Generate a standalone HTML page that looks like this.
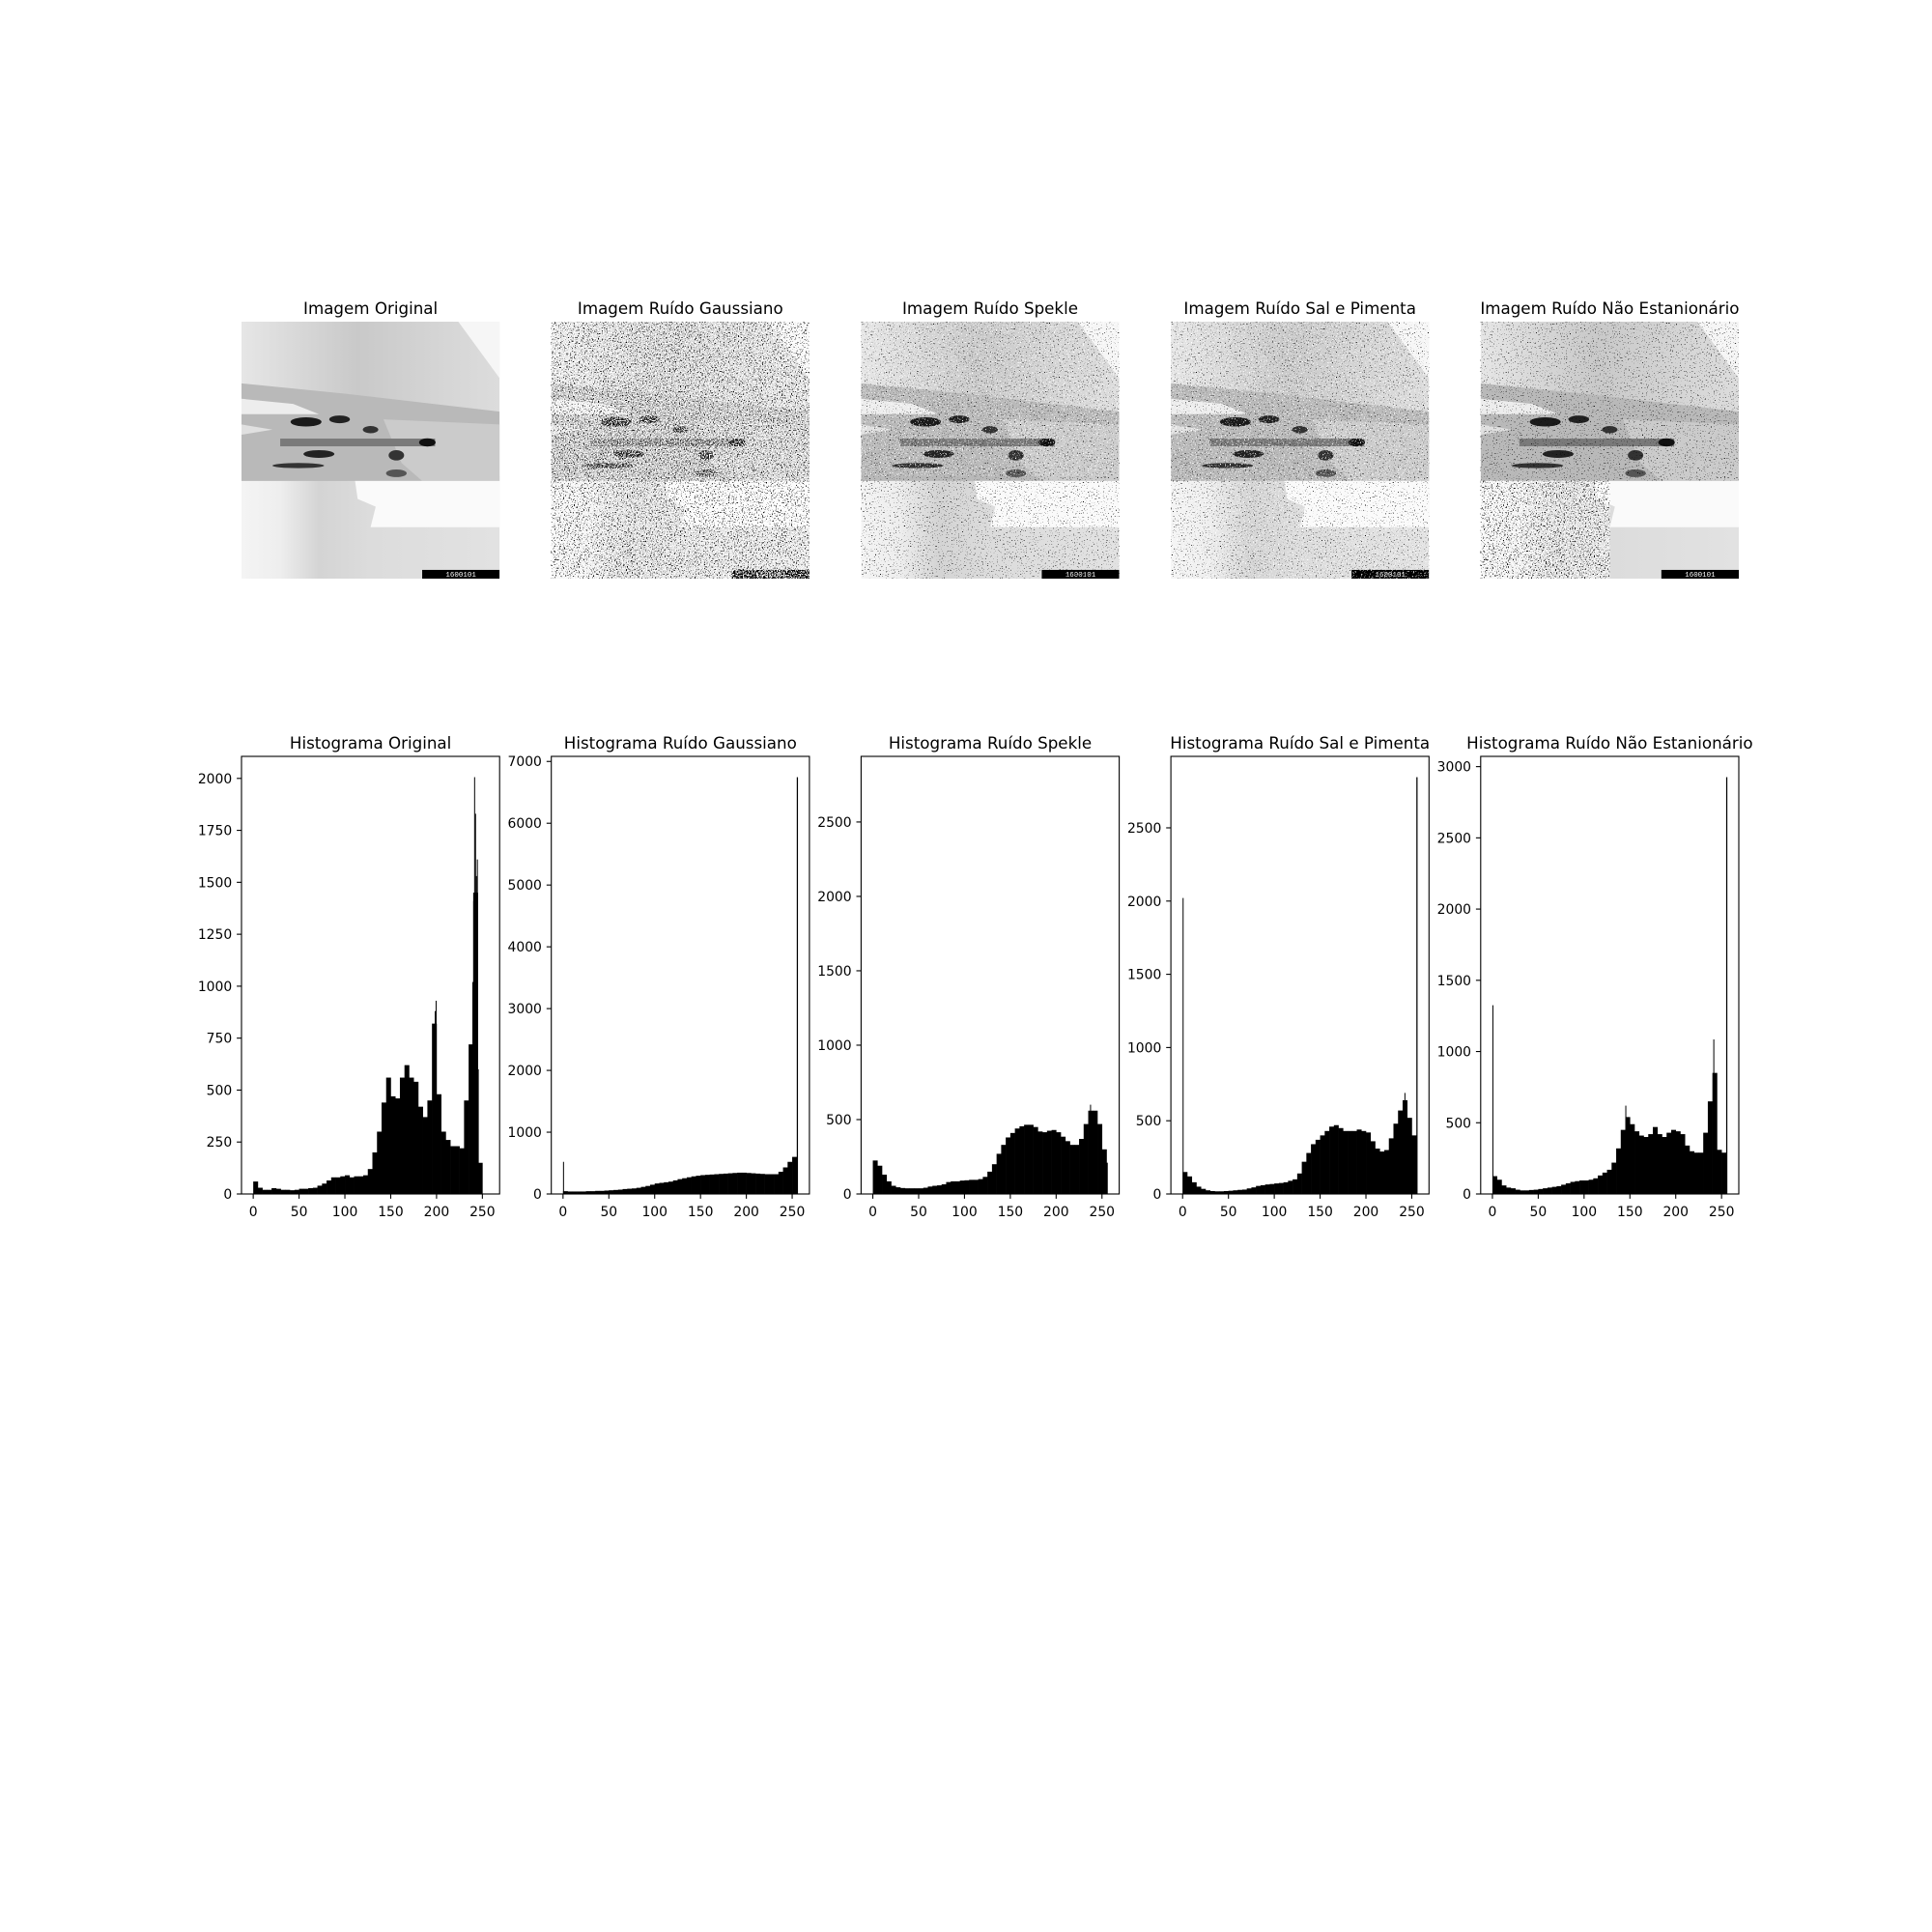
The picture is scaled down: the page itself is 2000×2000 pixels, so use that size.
<!DOCTYPE html>
<html><head><meta charset="utf-8"><style>
html,body{margin:0;padding:0;background:#fff;}
svg{display:block;font-family:"DejaVu Sans","Liberation Sans",sans-serif;}
</style></head><body>
<svg id="fig" width="2000" height="2000" viewBox="0 0 2000 2000" xmlns="http://www.w3.org/2000/svg">
<defs>
<symbol id="scene" viewBox="0 0 100 100" preserveAspectRatio="none">
 <linearGradient id="bgG" x1="0" x2="1" y1="0" y2="0">
  <stop offset="0" stop-color="#e6e6e6"/><stop offset="0.45" stop-color="#c9c9c9"/><stop offset="0.8" stop-color="#d6d6d6"/><stop offset="1" stop-color="#dcdcdc"/>
 </linearGradient>
 <linearGradient id="lowG" x1="0" x2="1" y1="0" y2="0">
  <stop offset="0" stop-color="#f4f4f4"/><stop offset="0.15" stop-color="#eeeeee"/><stop offset="0.3" stop-color="#d4d4d4"/><stop offset="0.5" stop-color="#dcdcdc"/><stop offset="1" stop-color="#e2e2e2"/>
 </linearGradient>
 <rect x="0" y="0" width="100" height="62" fill="url(#bgG)"/>
 <rect x="0" y="60" width="100" height="40" fill="url(#lowG)"/>
 <polygon points="84,0 100,0 100,22" fill="#f6f6f6"/>
 <polygon points="0,24 40,28 100,35 100,62 0,62" fill="#b9b9b9"/>
 <polygon points="55,38 100,40 100,62 70,62 62,55" fill="#cbcbcb"/>
 <polygon points="0,30 20,32 30,36 0,36" fill="#ededed"/>
 <polygon points="0,40 12,42 0,44" fill="#e0e0e0"/>
 <ellipse cx="25" cy="39" rx="6" ry="1.8" fill="#1a1a1a"/>
 <ellipse cx="38" cy="38" rx="4" ry="1.5" fill="#222"/>
 <ellipse cx="50" cy="42" rx="3" ry="1.4" fill="#333"/>
 <rect x="15" y="45.5" width="60" height="3" fill="#7a7a7a"/>
 <ellipse cx="72" cy="47" rx="3.2" ry="1.6" fill="#111"/>
 <ellipse cx="60" cy="52" rx="3" ry="2" fill="#333"/>
 <ellipse cx="30" cy="51.5" rx="6" ry="1.5" fill="#222"/>
 <ellipse cx="22" cy="56" rx="10" ry="1" fill="#333"/>
 <ellipse cx="60" cy="59" rx="4" ry="1.5" fill="#555"/>
 <polygon points="44,62 100,62 100,80 50,80 52,72 45,69" fill="#fafafa"/>
 <rect x="70" y="96.6" width="30" height="3.4" fill="#000"/>
 <text x="85" y="99.3" font-size="2.8" fill="#fff" text-anchor="middle" font-family="Liberation Mono, monospace">1600101</text>
</symbol>
<filter id="nb1" x="0" y="0" width="1" height="1" filterUnits="objectBoundingBox"><feTurbulence type="fractalNoise" baseFrequency="0.8" numOctaves="1" seed="3"/><feColorMatrix type="matrix" values="0 0 0 0 0  0 0 0 0 0  0 0 0 0 0  20 0 0 0 -11.8"/></filter>
<filter id="nw1" x="0" y="0" width="1" height="1" filterUnits="objectBoundingBox"><feTurbulence type="fractalNoise" baseFrequency="0.8" numOctaves="1" seed="9"/><feColorMatrix type="matrix" values="0 0 0 0 1  0 0 0 0 1  0 0 0 0 1  20 0 0 0 -10.2"/></filter>
<filter id="nb2" x="0" y="0" width="1" height="1" filterUnits="objectBoundingBox"><feTurbulence type="fractalNoise" baseFrequency="0.8" numOctaves="1" seed="5"/><feColorMatrix type="matrix" values="0 0 0 0 0  0 0 0 0 0  0 0 0 0 0  20 0 0 0 -13.4"/></filter>
<filter id="nw2" x="0" y="0" width="1" height="1" filterUnits="objectBoundingBox"><feTurbulence type="fractalNoise" baseFrequency="0.8" numOctaves="1" seed="12"/><feColorMatrix type="matrix" values="0 0 0 0 1  0 0 0 0 1  0 0 0 0 1  20 0 0 0 -12.6"/></filter>
</defs>
<g id="images"></g>
<g id="hists"></g>
</svg>
<script>
// ---- chart data ----
const imageTitles = ["Imagem Original","Imagem Ruído Gaussiano","Imagem Ruído Spekle","Imagem Ruído Sal e Pimenta","Imagem Ruído Não Estanionário"];
const histTitles = ["Histograma Original","Histograma Ruído Gaussiano","Histograma Ruído Spekle","Histograma Ruído Sal e Pimenta","Histograma Ruído Não Estanionário"];
const xTicks = [0,50,100,150,200,250];
const groupSize = 5;
const yTicksOriginal = [0,250,500,750,1000,1250,1500,1750,2000];
const yTicksGauss = [0,1000,2000,3000,4000,5000,6000,7000];
const yTicksSpekle = [0,500,1000,1500,2000,2500];
const yTicksSal = [0,500,1000,1500,2000,2500];
const yTicksNE = [0,500,1000,1500,2000,2500,3000];
const yMaxes = [2106,7082,2941,2988,3072];
const countsOriginal = [60,30,20,20,28,25,20,20,18,20,25,25,28,30,40,50,65,80,80,85,90,80,85,85,90,120,200,300,440,560,470,460,560,620,560,540,420,370,450,820,480,300,260,230,230,220,450,720,1450,150,0,0];
const countsGauss = [45,40,40,40,40,45,45,50,50,55,60,65,70,80,85,90,100,115,130,150,170,180,190,200,220,240,255,270,285,295,305,310,315,320,325,330,335,340,345,345,340,335,330,325,320,320,320,360,430,520,600,6745];
const countsSpekle = [225,190,130,85,55,45,40,38,38,38,38,42,50,55,58,65,80,85,85,90,92,95,95,100,115,150,200,270,330,380,410,440,455,465,465,450,420,415,425,430,415,385,355,330,330,370,470,560,560,470,300,210];
const countsSal = [150,120,80,50,35,25,20,18,18,20,22,25,28,30,38,45,55,60,65,68,72,75,80,90,100,140,220,280,340,370,400,430,460,470,450,430,430,430,440,430,420,360,310,290,300,380,480,570,640,520,400,2846];
const countsNE = [125,100,60,45,40,30,25,25,28,30,35,40,45,50,55,65,75,85,90,95,95,100,110,130,150,170,220,320,450,540,490,440,410,400,420,470,420,400,430,450,440,420,340,300,290,290,430,650,850,310,290,2926];
const spikeBinsOriginal = [198,199,239,240,241,242,243,244,245];
const spikeValsOriginal = [880,930,1020,1410,2006,1830,1530,1610,600];
const spikeBinsGauss = [0];
const spikeValsGauss = [520];
const spikeBinsSpekle = [237];
const spikeValsSpekle = [600];
const spikeBinsSal = [0,242];
const spikeValsSal = [2021,690];
const spikeBinsNE = [0,241,145];
const spikeValsNE = [1325,1085,620];

const panels = [
 {counts:countsOriginal, sb:spikeBinsOriginal, sv:spikeValsOriginal, ticks:yTicksOriginal},
 {counts:countsGauss, sb:spikeBinsGauss, sv:spikeValsGauss, ticks:yTicksGauss},
 {counts:countsSpekle, sb:spikeBinsSpekle, sv:spikeValsSpekle, ticks:yTicksSpekle},
 {counts:countsSal, sb:spikeBinsSal, sv:spikeValsSal, ticks:yTicksSal},
 {counts:countsNE, sb:spikeBinsNE, sv:spikeValsNE, ticks:yTicksNE}
];

const NS = "http://www.w3.org/2000/svg";
const colX = [250, 570.7, 891.4, 1212.1, 1532.8];
const axW = 267.2;
const imgTop = 333, imgH = 266;
const hTop = 783, hBot = 1236;
const XMIN = -12.8, XMAX = 268.8;

function mk(tag, attrs, parent){
  const e = document.createElementNS(NS, tag);
  for (const k in attrs) e.setAttribute(k, attrs[k]);
  parent.appendChild(e);
  return e;
}
function txt(parent, x, y, s, size, anchor){
  const t = mk('text', {x:x, y:y, 'font-size':size, 'text-anchor':anchor, fill:'#000'}, parent);
  t.textContent = s;
  return t;
}

// images
const gI = document.getElementById('images');
const noiseCfg = [
  [],
  [['nb1',0,0,1,1],['nw1',0,0,1,1]],
  [['nb2',0,0,1,1],['nw2',0,0,1,0.6]],
  [['nb2',0,0,1,1],['nw2',0,0,1,1]],
  [['nb2',0,0,1,0.62],['nb1',0,0.62,0.5,0.38],['nw1',0,0.62,0.5,0.38]]
];
for (let i=0;i<5;i++){
  const g = mk('g', {transform:`translate(${colX[i]},${imgTop})`}, gI);
  
  
  mk('use', {href:'#scene', x:0, y:0, width:axW, height:imgH}, g);
  noiseCfg[i].forEach(n=>{
    mk('rect', {x:n[1]*axW, y:n[2]*imgH, width:n[3]*axW, height:n[4]*imgH, fill:'#000', filter:`url(#${n[0]})`}, g);
  });
  const t = txt(gI, colX[i]+axW/2, imgTop-8, imageTitles[i], 16.7, 'middle');
  
  
}

// histograms
const gH = document.getElementById('hists');
panels.forEach((p, i)=>{
  const x0 = colX[i];
  const yMax = yMaxes[i];
  const xs = v => x0 + (v - XMIN) / (XMAX - XMIN) * axW;
  const ys = v => hBot - v / yMax * (hBot - hTop);
  const g = mk('g', {}, gH);
  
  
  const bars = mk('g', {fill:'#000'}, g);
  
  
  p.counts.forEach((c, k)=>{
    const start = k*groupSize;
    const w = Math.min(groupSize, 256-start);
    if (c <= 0) return;
    const r = mk('rect', {x:xs(start), y:ys(c), width:xs(start+w)-xs(start)+0.3, height:hBot-ys(c)}, bars);
    
    
  });
  p.sb.forEach((b, k)=>{
    const v = p.sv[k];
    const r = mk('rect', {x:xs(b), y:ys(v), width:Math.max(1, xs(b+1)-xs(b)), height:hBot-ys(v)}, bars);
    
    
  });
  const frame = mk('rect', {x:x0, y:hTop, width:axW, height:hBot-hTop, fill:'none', stroke:'#000', 'stroke-width':1.1}, g);
  
  
  xTicks.forEach(v=>{
    mk('line', {x1:xs(v), x2:xs(v), y1:hBot, y2:hBot+4.9, stroke:'#000', 'stroke-width':1.1}, g);
    const t = txt(g, xs(v), hBot+23, String(v), 13.9, 'middle');
    
    
  });
  p.ticks.forEach(v=>{
    mk('line', {x1:x0-4.9, x2:x0, y1:ys(v), y2:ys(v), stroke:'#000', 'stroke-width':1.1}, g);
    const t = txt(g, x0-9.8, ys(v)+5, String(v), 13.9, 'end');
    
    
  });
  const tt = txt(g, x0+axW/2, hTop-8, histTitles[i], 16.7, 'middle');
  
  
});
</script>
</body></html>
